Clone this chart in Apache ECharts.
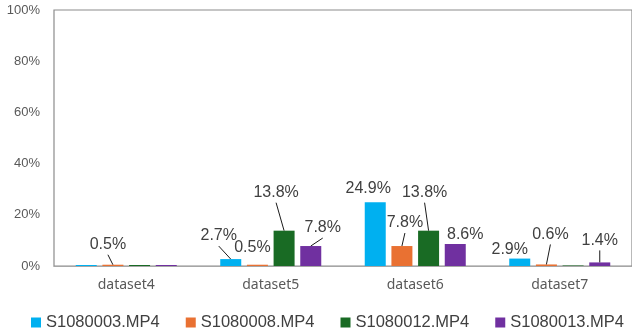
<!DOCTYPE html>
<html>
<head>
<meta charset="utf-8">
<script src="https://cdn.jsdelivr.net/npm/echarts@6/dist/echarts.min.js"></script>
<style>
  html, body { margin: 0; padding: 0; background: #fff; }
  #chart { width: 632px; height: 331px; }
</style>
</head>
<body>
<div id="chart"></div>
<script>
// Categories and series (values in percent)
const categories = ['dataset4', 'dataset5', 'dataset6', 'dataset7'];
const seriesNames = ['S1080003.MP4', 'S1080008.MP4', 'S1080012.MP4', 'S1080013.MP4'];
const s1080003 = [0.4, 2.7, 24.9, 2.9];
const s1080008 = [0.5, 0.5, 7.8, 0.6];
const s1080012 = [0.4, 13.8, 13.8, 0.2];
const s1080013 = [0.4, 7.8, 8.6, 1.4];
const yTicks = [0, 20, 40, 60, 80, 100];

const colors = ['#00B0F0', '#E97132', '#196B24', '#7030A0'];

// Which data labels are displayed, and which of those have a leader line
const labelShown = [
  [false, true, true, true],
  [true, true, true, true],
  [false, true, true, false],
  [false, true, true, true]
];
const leaderShown = [
  [false, true, false, false],
  [true, false, true, true],
  [false, true, true, false],
  [false, true, false, true]
];
// Label offsets from the default "top" position, [dx, dy]
const labelShift = [
  [[0, 0], [-12, -10], [-7, -1], [-10, 4]],
  [[-5, -7], [-5, -4], [3, -10], [4, -17]],
  [[0, 0], [-8, -25], [-4, -25], [0, 0]],
  [[0, 0], [12, -5], [10, 4], [0, -9]]
];

const BAR_WIDTH = 21;
const BAR_GAP = 0.27;      // fraction of bar width
const LABEL_DIST = 5;

const allValues = [s1080003, s1080008, s1080012, s1080013];

const barSeries = allValues.map((vals, si) => ({
  name: seriesNames[si],
  type: 'bar',
  barWidth: BAR_WIDTH,
  barGap: (BAR_GAP * 100) + '%',
  itemStyle: { color: colors[si] },
  label: {
    show: true,
    position: 'top',
    distance: LABEL_DIST,
    fontFamily: 'Liberation Sans',
    fontSize: 16,
    color: '#404040',
    formatter: p => p.value.toFixed(1) + '%'
  },
  labelLayout: p => {
    const s = labelShift[p.seriesIndex][p.dataIndex];
    return { dx: s[0], dy: s[1] };
  },
  data: vals.map((v, di) => ({ value: v, label: { show: labelShown[si][di] } }))
}));

// Leader lines: from just under each moved label to the top centre of its bar
const leaderData = [];
allValues.forEach((vals, si) => vals.forEach((v, di) => {
  if (labelShown[si][di] && leaderShown[si][di]) leaderData.push([di, v, si]);
}));

const leaderSeries = {
  type: 'custom',
  name: 'leaders',
  z: 5,
  silent: true,
  data: leaderData,
  renderItem: (params, api) => {
    const di = api.value(0), si = api.value(2);
    const top = api.coord([di, api.value(1)]);
    const pitch = BAR_WIDTH * (1 + BAR_GAP);
    const bx = top[0] + (si - (allValues.length - 1) / 2) * pitch;
    const by = top[1];
    const s = labelShift[si][di];
    const lx = bx + s[0];
    const ly = by - LABEL_DIST + s[1] + 2;
    return {
      type: 'line',
      shape: { x1: lx, y1: ly, x2: bx, y2: by },
      style: { stroke: '#1a1a1a', lineWidth: 1 }
    };
  }
};

const option = {
  animation: false,
  grid: {
    left: 54, top: 10, right: -2, bottom: 65,
    show: true, borderColor: '#8c8c8c', borderWidth: 1.2
  },
  legend: {
    data: seriesNames,
    left: 26,
    top: 309,
    width: 620,
    icon: 'rect',
    itemWidth: 10,
    itemHeight: 10,
    itemGap: 26,
    textStyle: { fontFamily: 'Liberation Sans', fontSize: 16.5, color: '#404040' }
  },
  xAxis: {
    type: 'category',
    data: categories,
    axisLine: { show: true, lineStyle: { color: '#a6a6a6', width: 1.2 } },
    axisTick: { show: false },
    axisLabel: { fontFamily: 'Noto Sans', fontSize: 14, color: '#595959', margin: 12 }
  },
  yAxis: {
    type: 'value',
    min: yTicks[0],
    max: yTicks[yTicks.length - 1],
    interval: yTicks[1] - yTicks[0],
    axisLine: { show: false },
    axisTick: { show: false },
    splitLine: { show: false },
    axisLabel: {
      fontFamily: 'Liberation Sans', fontSize: 13, color: '#595959', margin: 14,
      formatter: '{value}%'
    }
  },
  series: barSeries.concat([leaderSeries])
};

const chart = echarts.init(document.getElementById('chart'), null, { renderer: 'canvas' });
chart.setOption(option);
</script>
</body>
</html>
